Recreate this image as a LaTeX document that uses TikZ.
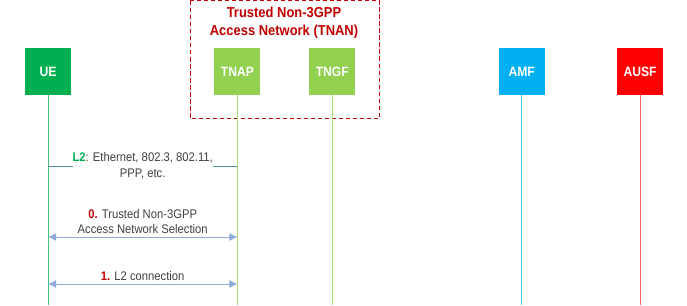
\documentclass[tikz,border=0pt]{standalone}
\usepackage{fontspec}
\setmainfont{Liberation Sans}[FakeStretch=0.9]
\usetikzlibrary{arrows.meta,positioning}

\definecolor{uegreen}{HTML}{00B050}
\definecolor{angreen}{HTML}{92D050}
\definecolor{amfblue}{HTML}{00B0F0}
\definecolor{ausfred}{HTML}{FF0000}
\definecolor{tnanred}{HTML}{C00000}
\definecolor{msgblue}{HTML}{8EAADB}
\definecolor{l2teal}{HTML}{4F8FA8}
\definecolor{txtgray}{HTML}{404040}

\begin{document}
\begin{tikzpicture}[
  x=1pt,y=-1pt,
  node distance=143pt,
  entity/.style={minimum width=46pt,minimum height=47pt,inner sep=0pt,
    text=white,font=\fontsize{13.5}{16}\selectfont\bfseries},
  life/.style={line width=1pt},
  msg/.style={draw=msgblue,line width=1pt,{Latex[length=8pt,width=8pt]}-{Latex[length=8pt,width=8pt]}},
  label/.style={text=txtgray,align=center,font=\fontsize{12.5}{15.5}\selectfont,inner sep=1pt}
]
  \useasboundingbox (0,0) rectangle (687,305);

  % entities
  \node[entity,fill=uegreen] (ue) at (48,71.5) {UE};
  \node[entity,fill=angreen,right=of ue] (tnap) {TNAP};
  \node[entity,fill=angreen,right=48.5pt of tnap] (tngf) {TNGF};
  \node[entity,fill=amfblue,right=of tngf] (amf) {AMF};
  \node[entity,fill=ausfred,right=72pt of amf] (ausf) {AUSF};

  % TNAN grouping
  \draw[tnanred,line width=1pt,dash pattern=on 4.5pt off 2.5pt] (190,1) rectangle (379,118.5);
  \node[text=tnanred,align=center,font=\fontsize{14.4}{18}\selectfont\bfseries] (tnan) at (284,22.5) {Trusted Non-3GPP\\Access Network (TNAN)};

  % lifelines
  \coordinate (ue-end) at (ue |- 0,305);
  \coordinate (tnap-end) at (tnap |- 0,305);
  \coordinate (tngf-end) at (tngf |- 0,305);
  \coordinate (amf-end) at (amf |- 0,305);
  \coordinate (ausf-end) at (ausf |- 0,305);
  \draw[life,draw=uegreen!75] (ue) -- (ue-end);
  \draw[life,draw=angreen!80] (tnap) -- (tnap-end);
  \draw[life,draw=angreen!80] (tngf) -- (tngf-end);
  \draw[life,draw=amfblue!70] (amf) -- (amf-end);
  \draw[life,draw=ausfred!60] (ausf) -- (ausf-end);

  % L2 link between UE and TNAP
  \coordinate (l2-ue) at (ue |- 0,166);
  \coordinate (l2-tnap) at (tnap |- 0,166);
  \draw[l2teal,line width=1pt] (l2-ue) -- node[label,fill=white,inner xsep=0pt] (l2) {\textcolor{uegreen}{\bfseries L2}: Ethernet, 802.3, 802.11,\\PPP, etc.} (l2-tnap);

  % step 0
  \coordinate (m0-ue) at (ue |- 0,237);
  \coordinate (m0-tnap) at (tnap |- 0,237);
  \draw[msg] (m0-ue) -- node[label,above=1.5pt] (m0) {\textcolor{tnanred}{\bfseries 0.} Trusted Non-3GPP\\Access Network Selection} (m0-tnap);

  % step 1
  \coordinate (m1-ue) at (ue |- 0,284);
  \coordinate (m1-tnap) at (tnap |- 0,284);
  \draw[msg] (m1-ue) -- node[label,above=1.5pt] (m1) {\textcolor{tnanred}{\bfseries 1.} L2 connection} (m1-tnap);
\end{tikzpicture}
\end{document}
